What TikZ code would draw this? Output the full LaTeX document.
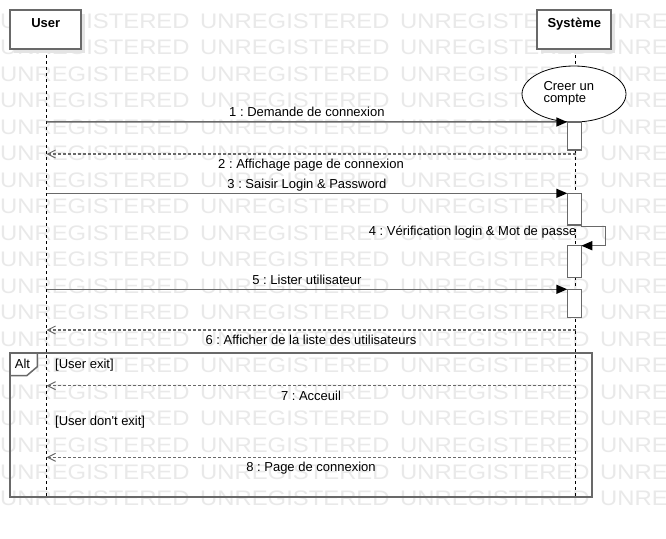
\documentclass[tikz,border=0pt]{standalone}
\usepackage{fontspec}
\setmainfont{Liberation Sans}
\usetikzlibrary{arrows.meta,shapes.geometric,shadows}
\definecolor{linegray}{RGB}{105,105,105}
\definecolor{wmgray}{RGB}{233,233,233}
\definecolor{shadowgray}{RGB}{228,228,228}
\tikzset{
  wm/.style={font=\fontsize{21}{21}\selectfont, text=wmgray, inner sep=0pt, anchor=base west},
  lbl/.style={font=\fontsize{13}{15}\selectfont, inner sep=0pt, anchor=base},
  namelbl/.style={font=\fontsize{13}{15}\selectfont\bfseries, inner sep=0pt, anchor=base},
  headbox/.style={draw=linegray, line width=1.5pt, fill=white, minimum height=39pt,
    inner sep=0pt, outer sep=0pt,
    drop shadow={shadow xshift=4pt, shadow yshift=-4pt, fill=shadowgray, opacity=1}},
  actbox/.style={draw=linegray, line width=1.5pt, fill=white, minimum width=14pt,
    inner sep=0pt, outer sep=0pt, anchor=north},
  lifeline/.style={draw=black, line width=0.8pt, dash pattern=on 3pt off 3pt},
  msg/.style={draw=linegray, line width=1.5pt, -{Triangle[length=11pt,width=9pt,color=black]}},
  ret/.style={draw=linegray, line width=1.3pt, dash pattern=on 3pt off 2pt,
    -{Straight Barb[length=8pt,width=8pt,color=linegray,line width=1pt]}},
  framebox/.style={draw=linegray, line width=1.5pt, inner sep=0pt, outer sep=0pt, anchor=north west},
}
\frenchspacing
\begin{document}
\begin{tikzpicture}[x=1pt,y=-1pt]
\useasboundingbox (0,0) rectangle (666,538);
\fill[white] (0,0) rectangle (666,538);
% watermark
\foreach \r in {0,...,18}{
  \foreach \c in {0,...,3}{
    \node[wm] (wm-\r-\c) at (200*\c, 28+26.53*\r) {\scalebox{1.135}[1]{UNREGISTERED}};
  }
}
% alt frame
\node[framebox, minimum width=582pt, minimum height=144pt] (alt) at (10,353) {};
\draw[linegray, line width=1.5pt, fill=white] (alt.north west) -- ++(27.3,0) -- ++(0,13.7)
   -- ++(-10.6,9) -- ++(-16.7,0) -- cycle;
\node[lbl] (altlbl) at (22.5,368) {Alt};
% lifelines
\coordinate (uTop) at (46.5,49);
\coordinate (uEnd) at (46.5,497);
\coordinate (sTop) at (575.5,49);
\coordinate (sEnd) at (575.5,497);
\draw[lifeline] (uTop) -- (uEnd);
\draw[lifeline] (sTop) -- (sEnd);
% heads
\node[headbox, minimum width=71pt] (user) at (45.5,29.5) {};
\node[namelbl] (userlbl) at (45.8,27.3) {User};
\node[headbox, minimum width=74pt] (sys) at (574,29.5) {};
\node[namelbl] (syslbl) at (574.3,27.3) {Système};
% use case ellipse
\node[ellipse, draw=black, line width=0.8pt, fill=white, minimum width=104pt,
  minimum height=56pt, inner sep=0pt] (uc) at (574,94) {};
\node[lbl, anchor=base west] (uct1) at (543.3,90) {Creer un};
\node[lbl, anchor=base west] (uct2) at (543.3,102.7) {compte};
% activations
\node[actbox, minimum height=28pt] (a1) at (574.3,122) {};
\node[actbox, minimum height=31.7pt] (a2) at (574.3,193.3) {};
\node[actbox, minimum height=32pt] (a3) at (574.3,245.7) {};
\node[actbox, minimum height=28pt] (a4) at (574.3,289.3) {};
% messages
\coordinate (m1s) at (46.5,121.8);
\draw[msg] (m1s) -- node[lbl, midway, yshift=5.7pt] {1 : Demande de connexion} (a1.north west);
\coordinate (m2s) at (575.5,154);
\coordinate (m2e) at (46.5,154);
\draw[ret] (m2s) -- node[lbl, midway, yshift=-14.3pt] {2 : Affichage page de connexion} (m2e);
\coordinate (m3s) at (46.5,193.3);
\draw[msg] (m3s) -- node[lbl, midway, yshift=4.6pt] {3 : Saisir Login \& Password} (a2.north west);
\coordinate (s4a) at (581.3,226.7);
\coordinate (s4b) at (605.3,226.7);
\coordinate (s4c) at (605.3,245.7);
\draw[msg] (s4a) -- (s4b) -- (s4c) -- (a3.north east);
\node[lbl, anchor=base east] (m4lbl) at (576.5,235.7) {4 : Vérification login \& Mot de passe};
\coordinate (m5s) at (46.5,289.3);
\draw[msg] (m5s) -- node[lbl, midway, yshift=5.3pt] {5 : Lister utilisateur} (a4.north west);
\coordinate (m6s) at (575.5,330);
\coordinate (m6e) at (46.5,330);
\draw[ret] (m6s) -- node[lbl, midway, yshift=-14pt] {6 : Afficher de la liste des utilisateurs} (m6e);
% alt guards and replies
\node[lbl, anchor=base west] (g1) at (55,368.5) {[User exit]};
\coordinate (m7s) at (575.5,385.7);
\coordinate (m7e) at (46.5,385.7);
\draw[ret] (m7s) -- node[lbl, midway, yshift=-14.3pt] {7 : Acceuil} (m7e);
\node[lbl, anchor=base west] (g2) at (55,425) {[User don\textquotesingle t exit]};
\coordinate (m8s) at (575.5,457.3);
\coordinate (m8e) at (46.5,457.3);
\draw[ret] (m8s) -- node[lbl, midway, yshift=-14.2pt] {8 : Page de connexion} (m8e);
\end{tikzpicture}
\end{document}
